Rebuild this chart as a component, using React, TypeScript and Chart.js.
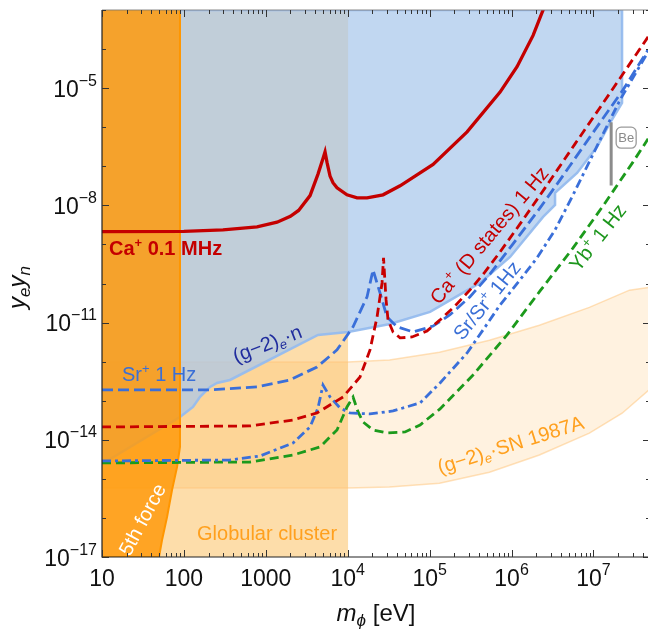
import React, { useEffect, useRef } from 'react';
import { Chart, registerables } from 'chart.js';

Chart.register(...registerables);

const FAMILY = '"Liberation Sans", Arial, Helvetica, sans-serif';

// ---- Data (log10 of m_phi in eV, log10 of y_e y_n) ----
// Ca+ 0.1 MHz (solid)
const caMHzLogM = [1.0, 2.0, 2.477, 2.893, 3.137, 3.30, 3.40, 3.54, 3.637, 3.698, 3.723, 3.747, 3.784, 3.82, 3.869, 3.991, 4.114, 4.236, 4.431, 4.639, 5.042, 5.457, 5.86, 6.067, 6.263, 6.385, 6.45];
const caMHzLogY = [-8.672, -8.665, -8.628, -8.551, -8.43, -8.28, -8.13, -7.75, -7.2, -6.8, -6.631, -6.9, -7.25, -7.42, -7.55, -7.73, -7.81, -7.81, -7.73, -7.5, -6.95, -6.12, -5.1, -4.45, -3.65, -3.0, -2.6];

// Ca+ (D states) 1 Hz (dashed red)
const caDLogM = [1.0, 2.807, 3.332, 3.625, 3.943, 4.15, 4.272, 4.358, 4.419, 4.437, 4.468, 4.492, 4.553, 4.639, 4.785, 4.968, 5.127, 5.31, 5.493, 5.676, 5.86, 6.104, 6.409, 6.775, 7.203, 7.667];
const caDLogY = [-13.672, -13.646, -13.493, -13.313, -12.904, -12.392, -11.7, -10.856, -9.985, -9.345, -10.42, -10.932, -11.24, -11.393, -11.368, -11.214, -10.932, -10.574, -10.164, -9.704, -9.191, -8.475, -7.553, -6.427, -5.121, -3.687];

// Sr+ 1 Hz (dashed blue)
const srLogM = [1.0, 2.282, 2.893, 3.295, 3.625, 3.869, 4.065, 4.236, 4.309, 4.394, 4.48, 4.602, 4.797, 5.042, 5.249, 5.493, 5.738, 6.018, 6.348, 6.592, 6.958, 7.361, 7.667];
const srLogY = [-12.725, -12.725, -12.648, -12.468, -12.136, -11.7, -11.11, -10.34, -9.65, -10.24, -10.86, -11.11, -11.24, -11.09, -10.8, -10.34, -9.755, -8.987, -8.065, -7.348, -6.247, -5.044, -4.02];

// Sr/Sr+ 1 Hz (dash-dot blue)
const srSrLogM = [1.0, 2.563, 2.929, 3.332, 3.54, 3.637, 3.698, 3.784, 3.906, 4.028, 4.272, 4.553, 4.883, 5.127, 5.457, 5.652, 5.86, 6.103, 6.311, 6.531, 6.751, 7.081, 7.325, 7.667];
const srSrLogY = [-14.542, -14.517, -14.414, -14.081, -13.672, -13.185, -12.597, -12.904, -13.185, -13.313, -13.339, -13.262, -13.057, -12.545, -11.777, -11.189, -10.548, -9.908, -9.345, -8.628, -7.732, -6.324, -5.3, -4.071];

// Yb+ 1 Hz (dashed green)
const ybLogM = [1.0, 2.807, 3.332, 3.662, 3.869, 3.991, 4.065, 4.126, 4.187, 4.309, 4.48, 4.7, 4.883, 5.127, 5.53, 5.945, 6.348, 6.751, 7.117, 7.484, 7.667];
const ybLogY = [-14.593, -14.568, -14.389, -14.184, -13.749, -13.16, -12.904, -13.288, -13.544, -13.749, -13.825, -13.8, -13.621, -13.211, -12.341, -11.316, -10.19, -9.089, -8.014, -6.887, -6.298];

// Excluded regions (polygons)
const globularLogM = [1.0, 4.004, 4.004, 1.0];
const globularLogY = [-17, -17, -3, -3];

const snLogM = [1.0, 4.0, 4.51, 5.12, 5.73, 6.34, 6.95, 7.44, 7.7, 7.7, 7.35, 6.95, 6.34, 5.73, 5.12, 4.51, 4.0, 1.0];
const snLogY = [-12.008, -12.008, -11.96, -11.76, -11.45, -11.07, -10.61, -10.17, -10.09, -12.68, -13.32, -13.83, -14.39, -14.83, -15.11, -15.21, -15.233, -15.233];

const g2nLogM = [1.0, 1.952, 2.111, 2.197, 2.319, 2.404, 2.563, 3.637, 4.004, 4.516, 5.005, 5.615, 5.982, 6.385, 6.531, 6.531, 6.8, 7.044, 7.203, 7.349, 7.349, 1.0];
const g2nLogY = [-14.62, -13.416, -13.16, -12.9, -12.648, -12.545, -12.469, -11.316, -11.24, -11.035, -10.728, -9.985, -9.32, -8.296, -7.988, -7.681, -7.169, -6.503, -5.889, -5.377, -3.0, -3.0];

const fifthLogM = [1.0, 1.952, 1.952, 1.916, 1.855, 1.794, 1.733, 1.696, 1.0];
const fifthLogY = [-3.0, -3.0, -14.184, -14.696, -15.285, -15.976, -16.565, -17.0, -17.0];

// Be bound (vertical bar)
const beLogM = [7.216, 7.216];
const beLogY = [-5.87, -7.49];

// Axes
const xMin = 10;
const xMax = 4.9e7;
const yMin = 1e-17;
const yMax = 1e-3;
const xTickValues = [10, 100, 1000, 1e4, 1e5, 1e6, 1e7];
const xTickLabels = ['10', '100', '1000', '10^4', '10^5', '10^6', '10^7'];
const yTickValues = [1e-17, 1e-14, 1e-11, 1e-8, 1e-5];
const yTickLabels = ['10^−17', '10^−14', '10^−11', '10^−8', '10^−5'];

type Seg = { t: string; s: number; it?: boolean; b?: boolean; dy?: number };

// Text annotations: anchor in data units (log10), rotation in degrees
const annotations: { segs: Seg[]; lm: number; ly: number; ang: number; color: string }[] = [
  { segs: [{ t: 'Ca', s: 20, b: true }, { t: '+', s: 13, b: true, dy: -8 }, { t: ' 0.1 MHz', s: 20, b: true }], lm: 1.085, ly: -9.27, ang: 0, color: '#C40000' },
  { segs: [{ t: 'Sr', s: 20 }, { t: '+', s: 13, dy: -8 }, { t: ' 1 Hz', s: 20 }], lm: 1.244, ly: -12.49, ang: 0, color: '#3A6FD6' },
  { segs: [{ t: '(g−2)', s: 20 }, { t: 'e', s: 13, it: true, dy: 4 }, { t: '·n', s: 20 }], lm: 2.636, ly: -12.033, ang: -21, color: '#1F2C9E' },
  { segs: [{ t: 'Ca', s: 20 }, { t: '+', s: 13, dy: -8 }, { t: ' (D states) 1 Hz', s: 20 }], lm: 5.115, ly: -10.56, ang: -50, color: '#C40000' },
  { segs: [{ t: 'Sr/Sr', s: 20 }, { t: '+', s: 13, dy: -8 }, { t: ' 1Hz', s: 20 }], lm: 5.40, ly: -11.48, ang: -51, color: '#3A6FD6' },
  { segs: [{ t: 'Yb', s: 20 }, { t: '+', s: 13, dy: -8 }, { t: ' 1 Hz', s: 20 }], lm: 6.82, ly: -9.72, ang: -52, color: '#1C961C' },
  { segs: [{ t: '(g−2)', s: 20 }, { t: 'e', s: 13, it: true, dy: 4 }, { t: '·SN 1987A', s: 20 }], lm: 5.127, ly: -14.875, ang: -17.5, color: '#FFA01E' },
  { segs: [{ t: 'Globular cluster', s: 20 }], lm: 2.16, ly: -16.565, ang: 0, color: '#FFA01E' },
  { segs: [{ t: '5th force', s: 20 }], lm: 1.342, ly: -17.0, ang: -62, color: '#FFFFFF' },
];

const toPts = (lm: number[], ly: number[]) => lm.map((v, i) => ({ x: Math.pow(10, v), y: Math.pow(10, ly[i]) }));

const fontOf = (g: Seg) => `${g.it ? 'italic ' : ''}${g.b ? 'bold ' : ''}${g.s}px ${FAMILY}`;

function rich(ctx: CanvasRenderingContext2D, segs: Seg[], x: number, y: number, ang: number, color: string, align: 'left' | 'center' | 'right') {
  ctx.save();
  ctx.translate(x, y);
  ctx.rotate((ang * Math.PI) / 180);
  ctx.fillStyle = color;
  ctx.textBaseline = 'alphabetic';
  ctx.textAlign = 'left';
  let w = 0;
  for (const g of segs) {
    ctx.font = fontOf(g);
    w += ctx.measureText(g.t).width;
  }
  let cx = align === 'center' ? -w / 2 : align === 'right' ? -w : 0;
  for (const g of segs) {
    ctx.font = fontOf(g);
    ctx.fillText(g.t, cx, g.dy || 0);
    cx += ctx.measureText(g.t).width;
  }
  ctx.restore();
}

function tickSegs(label: string): Seg[] {
  const [base, sup] = label.split('^');
  const segs: Seg[] = [{ t: base, s: 23 }];
  if (sup) segs.push({ t: sup, s: 16, dy: -11 });
  return segs;
}

const overlay = {
  id: 'overlay',
  afterDatasetsDraw(chart: any) {
    const ctx: CanvasRenderingContext2D = chart.ctx;
    const xs = chart.scales.x;
    const ys = chart.scales.y;
    for (const a of annotations) {
      const px = xs.getPixelForValue(Math.pow(10, a.lm));
      const py = ys.getPixelForValue(Math.pow(10, a.ly));
      rich(ctx, a.segs, px, py, a.ang, a.color, 'left');
    }
    // Be label box next to the Be bar
    const bx = xs.getPixelForValue(Math.pow(10, beLogM[0]));
    const by = ys.getPixelForValue(Math.pow(10, beLogY[0]));
    ctx.save();
    ctx.strokeStyle = '#9a9a9a';
    ctx.lineWidth = 1.3;
    const rx = bx + 5, ry = by + 5, rw = 20, rh = 21, r = 5;
    ctx.beginPath();
    ctx.moveTo(rx + r, ry);
    ctx.arcTo(rx + rw, ry, rx + rw, ry + rh, r);
    ctx.arcTo(rx + rw, ry + rh, rx, ry + rh, r);
    ctx.arcTo(rx, ry + rh, rx, ry, r);
    ctx.arcTo(rx, ry, rx + rw, ry, r);
    ctx.closePath();
    ctx.fillStyle = 'rgba(255,255,255,0.9)';
    ctx.fill();
    ctx.stroke();
    ctx.restore();
    rich(ctx, [{ t: 'Be', s: 13 }], bx + 15, by + 20, 0, '#8a8a8a', 'center');
  },
  afterDraw(chart: any) {
    const ctx: CanvasRenderingContext2D = chart.ctx;
    const xs = chart.scales.x;
    const ys = chart.scales.y;
    const { left, right, top, bottom } = chart.chartArea;
    ctx.save();
    // frame
    ctx.lineWidth = 1.2;
    ctx.strokeStyle = '#222';
    ctx.beginPath();
    ctx.moveTo(left, top);
    ctx.lineTo(left, bottom);
    ctx.lineTo(right, bottom);
    ctx.stroke();
    ctx.strokeStyle = '#888';
    ctx.lineWidth = 1;
    ctx.beginPath();
    ctx.moveTo(left, top);
    ctx.lineTo(right, top);
    ctx.lineTo(right, bottom);
    ctx.stroke();
    // x ticks
    ctx.strokeStyle = '#333';
    ctx.lineWidth = 1;
    ctx.beginPath();
    for (let e = 1; e <= 7; e++) {
      for (let k = 1; k <= 9; k++) {
        const v = k * Math.pow(10, e);
        if (v > xMax) break;
        const px = Math.round(xs.getPixelForValue(v)) + 0.5;
        const len = k === 1 ? 7 : 4;
        ctx.moveTo(px, bottom);
        ctx.lineTo(px, bottom - len);
        ctx.moveTo(px, top);
        ctx.lineTo(px, top + len);
      }
    }
    // y ticks
    for (let e = -17; e <= -3; e++) {
      const py = Math.round(ys.getPixelForValue(Math.pow(10, e))) + 0.5;
      const len = (e + 17) % 3 === 0 ? 7 : 4;
      ctx.moveTo(left, py);
      ctx.lineTo(left + len, py);
      ctx.moveTo(right, py);
      ctx.lineTo(right - len, py);
    }
    ctx.stroke();
    ctx.restore();

    // tick labels
    xTickValues.forEach((v, i) => {
      const px = xs.getPixelForValue(v);
      rich(ctx, tickSegs(xTickLabels[i]), px, 586, 0, '#111', 'center');
    });
    yTickValues.forEach((v, i) => {
      const py = ys.getPixelForValue(v);
      rich(ctx, tickSegs(yTickLabels[i]), 97, py + 8.5, 0, '#111', 'right');
    });

    // axis titles
    const cx = (left + right) / 2;
    rich(ctx, [{ t: 'm', s: 24, it: true }, { t: 'ϕ', s: 17, it: true, dy: 5 }, { t: ' [eV]', s: 24 }], cx, 621, 0, '#111', 'center');
    const cy = (top + bottom) / 2 + 4;
    rich(ctx, [{ t: 'y', s: 24, it: true }, { t: 'e', s: 17, it: true, dy: 5 }, { t: 'y', s: 24, it: true }, { t: 'n', s: 17, it: true, dy: 5 }], 25, cy, -90, '#111', 'center');
  },
};

export default function App() {
  const ref = useRef<HTMLCanvasElement | null>(null);
  useEffect(() => {
    if (!ref.current) return;
    const line = (data: any, color: string, width: number, dash: number[], order: number) => ({
      data,
      borderColor: color,
      borderWidth: width,
      borderDash: dash,
      fill: false,
      pointRadius: 0,
      tension: 0,
      order,
    });
    const region = (data: any, bg: string, border: string, bw: number, order: number) => ({
      data,
      backgroundColor: bg,
      borderColor: border,
      borderWidth: bw,
      fill: 'shape',
      pointRadius: 0,
      tension: 0,
      order,
    });
    const chart = new Chart(ref.current, {
      type: 'line',
      data: {
        datasets: [
          region(toPts(globularLogM, globularLogY), 'rgb(253,221,170)', 'rgba(0,0,0,0)', 0, 20),
          region(toPts(snLogM, snLogY), 'rgba(255,170,50,0.15)', 'rgba(255,195,120,0.5)', 1.5, 19),
          region(toPts(g2nLogM, g2nLogY), 'rgba(169,199,236,0.72)', 'rgba(150,188,238,0.95)', 2.5, 18),
          region(toPts(fifthLogM, fifthLogY), 'rgba(255,153,9,0.83)', 'rgba(255,150,0,1)', 2, 17),
          line(toPts(beLogM, beLogY), '#8C8C8C', 3, [], 6),
          line(toPts(ybLogM, ybLogY), '#1C9A1C', 2.8, [9, 5], 5),
          line(toPts(srSrLogM, srSrLogY), '#3A6FD9', 2.8, [9, 4, 3, 4], 4),
          line(toPts(srLogM, srLogY), '#3A6FD9', 2.8, [11, 5], 3),
          line(toPts(caDLogM, caDLogY), '#C80000', 2.8, [9, 5], 2),
          line(toPts(caMHzLogM, caMHzLogY), '#C40000', 3.3, [], 1),
        ] as any,
      },
      options: {
        animation: false,
        responsive: false,
        devicePixelRatio: 1,
        layout: { padding: { top: 10, right: 0, left: 0, bottom: 0 } },
        plugins: { legend: { display: false }, tooltip: { enabled: false } },
        scales: {
          x: {
            type: 'logarithmic',
            min: xMin,
            max: xMax,
            grid: { display: false },
            border: { display: false },
            ticks: { display: false },
            afterFit: (s: any) => { s.height = 74; },
          },
          y: {
            type: 'logarithmic',
            min: yMin,
            max: yMax,
            grid: { display: false },
            border: { display: false },
            ticks: { display: false },
            afterFit: (s: any) => { s.width = 102; },
          },
        },
      } as any,
      plugins: [overlay],
    });
    return () => chart.destroy();
  }, []);
  return (
    <div style={{ position: 'fixed', left: 0, top: 0, width: 650, height: 631, background: '#fff' }}>
      <canvas ref={ref} width={650} height={631} style={{ width: 650, height: 631, display: 'block' }} />
    </div>
  );
}
